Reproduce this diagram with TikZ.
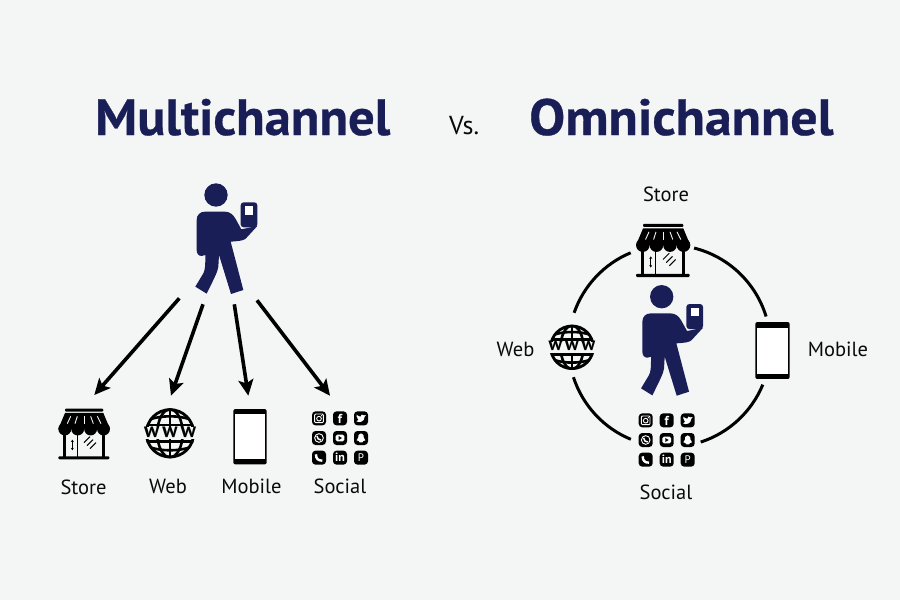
\documentclass[tikz,border=0pt]{standalone}
\usepackage{fontspec}
\setmainfont{PT Sans}
\newfontfamily\titlemulti[FakeStretch=1.03,FakeBold=0.6]{PT Sans Bold}
\newfontfamily\titleomni[FakeStretch=1.055,FakeBold=0.6]{PT Sans Bold}
\usetikzlibrary{arrows.meta,calc}
\definecolor{pagebg}{HTML}{F4F5F5}
\definecolor{navy}{HTML}{1A1E57}
\definecolor{ink}{HTML}{0A0A0A}
\tikzset{
  x=1pt,y=-1pt,
  title/.style={text=navy,anchor=base west,inner sep=0pt},
  label/.style={font=\fontsize{20.5}{20.5}\selectfont,text=ink,anchor=base,inner sep=0pt},
  channelarrow/.style={line width=3.6pt,draw=black,-{Stealth[length=16pt,width=15pt,inset=3.5pt]}},
  ringarc/.style={line width=3pt,draw=black},
  glyph/.style={transform shape,scale=3,text=white,inner sep=0pt,font=\bfseries\fontsize{11}{11}\selectfont},
  person/.pic={
    \begin{scope}[scale=0.3333,shift={(-138,-75)}]
      \fill[navy] (138,75) circle[radius=35];
      \fill[navy] (105,125) -- (165,125) .. controls (180,125) and (190,135) .. (197,147)
        -- (214,178) -- (262,168) -- (228,205) .. controls (222,211) and (212,213) .. (182,215)
        -- (220,360) -- (183,372) -- (147,255) -- (145,290) .. controls (143,305) and (135,320) .. (110,371)
        -- (76,350) -- (100,310) .. controls (105,300) and (106,290) .. (106,255)
        -- (95,258) .. controls (85,258) and (80,250) .. (80,240)
        -- (80,150) .. controls (80,135) and (90,125) .. (105,125) -- cycle;
      \fill[navy,rounded corners=3pt] (212,97) rectangle (262,172);
      \fill[white] (225,108) rectangle (250,134);
    \end{scope}
  },
  storefront/.pic={
    \begin{scope}[scale=0.3333,shift={(-132,-115)}]
      \fill[black,rounded corners=1pt] (75,41) rectangle (190,50);
      \fill[black] (75,54) -- (190,54) -- (210,102) -- (55,102) -- cycle;
      \foreach \cx in {74.4,113.1,151.9,190.6} \fill[black] (\cx,102) circle[radius=19.4];
      \foreach \a/\b in {92/82,112/105,132/132,152/160,172/183}
        \draw[pagebg,line width=.9pt] (\a,64) -- (\b,86);
      \fill[black] (68,112) rectangle (79,186);
      \fill[black] (185,112) rectangle (196,186);
      \fill[black] (110,112) rectangle (113,186);
      \fill[black,rounded corners=1pt] (55,184) rectangle (208,193);
      \draw[black,line width=1pt,{Stealth[length=2.5pt,width=3pt]}-{Stealth[length=2.5pt,width=3pt]}] (97,134) -- (97,166);
      \foreach \d in {-9,0,9}
        \draw[black,line width=1pt] ($(150,146)+(\d-9,\d+6)$) -- ($(150,146)+(\d+9,\d-12)$);
    \end{scope}
  },
  globe/.pic={
    \begin{scope}[scale=0.3333]
      \begin{scope}
        \clip (0,0) circle[radius=75];
        \draw[black,line width=2.6pt] (0,-75) -- (0,75);
        \draw[black,line width=2.6pt] (0,0) ellipse[x radius=38,y radius=72];
        \draw[black,line width=2.8pt] (-75,-25) -- (75,-25) (-75,25) -- (75,25);
        \draw[black,line width=2.6pt] (-60,-42) .. controls (-25,-54) and (25,-54) .. (60,-42);
        \draw[black,line width=2.6pt] (-60,42) .. controls (-25,54) and (25,54) .. (60,42);
      \end{scope}
      \draw[black,line width=2.8pt] (0,0) circle[radius=71];
      \fill[pagebg] (-80,-18) rectangle (80,18);
      \node[glyph,text=black,font=\bfseries\fontsize{21}{21}\selectfont] at (0,-4) {w\kern3.2pt w\kern3.2pt w};
    \end{scope}
  },
  handset/.pic={
    \begin{scope}[scale=0.3333]
      \fill[black,rounded corners=2pt] (-50,-83) rectangle (50,83);
      \fill[white] (-46,-67) rectangle (46,67);
    \end{scope}
  },
  socialgrid/.pic={
    \begin{scope}[scale=0.3333]
      \foreach \tx in {-63,0,63} \foreach \ty in {-59,0,59}
        \fill[black,rounded corners=3.5pt] (\tx-21,\ty-21) rectangle (\tx+21,\ty+21);
      % instagram
      \begin{scope}[shift={(-63,-59)}]
        \draw[white,line width=.9pt,rounded corners=1pt] (-13,-13) rectangle (13,13);
        \draw[white,line width=.9pt] (0,1) circle[radius=7];
        \fill[white] (8,-8) circle[radius=2];
      \end{scope}
      \node[glyph,font=\bfseries\fontsize{13}{13}\selectfont] at (0,-58) {f};
      % twitter
      \begin{scope}[shift={(63,-59)}]
        \fill[white] (-14,9) .. controls (-5,14) and (10,11) .. (11,-5) -- (15,-10) -- (9,-9)
          .. controls (5,-14) and (-3,-11) .. (-1,-5) .. controls (-6,-5) and (-10,-8) .. (-13,-11)
          .. controls (-14,-6) and (-13,-2) .. (-9,0) -- (-11,1) -- (-7,4) -- cycle;
      \end{scope}
      % whatsapp
      \begin{scope}[shift={(-63,0)}]
        \draw[white,line width=.9pt] (0,0) circle[radius=13];
        \draw[white,line width=1.5pt] (-6,-6) .. controls (-6,1) and (-1,6) .. (6,6);
      \end{scope}
      % youtube
      \begin{scope}[shift={(0,0)}]
        \fill[white,rounded corners=1.5pt] (-13,-10) rectangle (13,10);
        \fill[black] (-4,-6) -- (6,0) -- (-4,6) -- cycle;
      \end{scope}
      % ghost
      \begin{scope}[shift={(63,0)}]
        \fill[white] (0,-14) .. controls (-9,-14) and (-8,-5) .. (-8,-2) -- (-13,7) -- (-7,9) -- (-4,13)
          -- (4,13) -- (7,9) -- (13,7) -- (8,-2) .. controls (8,-5) and (9,-14) .. (0,-14) -- cycle;
      \end{scope}
      % phone
      \begin{scope}[shift={(-63,59)}]
        \draw[white,line width=2.4pt] (-9,-10) .. controls (-9,3) and (-3,9) .. (10,9);
      \end{scope}
      \node[glyph,font=\bfseries\fontsize{12}{12}\selectfont] at (0,59) {in};
      \node[glyph,font=\fontsize{11}{11}\selectfont] at (63,59) {P};
    \end{scope}
  },
}
\begin{document}
\begin{tikzpicture}
\useasboundingbox (0,0) rectangle (900,600);
\fill[pagebg] (0,0) rectangle (900,600);

% titles
\node[title,font=\titlemulti\fontsize{51}{51}\selectfont] (ttlm) at (95,135) {Multichannel};
\node[title,font=\titleomni\fontsize{51}{51}\selectfont] (ttlo) at (529,135) {Omnichannel};
\node[label,font=\fontsize{26}{26}\selectfont,anchor=base west] (vs) at (449,134) {Vs.};

% left column
\pic (mperson) at (216,195) {person};
\pic (mstore) at (84,433.3) {storefront};
\pic (mweb) at (170,433.3) {globe};
\pic (mmobile) at (250,436.7) {handset};
\pic (msocial) at (340,438) {socialgrid};
\node[label] (lstore) at (83.5,494.3) {Store};
\node[label] (lweb) at (168,493.3) {Web};
\node[label] (lmobile) at (251.5,493.3) {Mobile};
\node[label] (lsocial) at (340,493.3) {Social};

\coordinate (a1s) at (179.3,298.3); \coordinate (a1e) at (94.3,395);
\coordinate (a2s) at (203,304.3);   \coordinate (a2e) at (171,395.7);
\coordinate (a3s) at (234.3,304.3); \coordinate (a3e) at (248.3,395.7);
\coordinate (a4s) at (257,300.3);   \coordinate (a4e) at (330,395.7);
\draw[channelarrow] (a1s) -- (a1e);
\draw[channelarrow] (a2s) -- (a2e);
\draw[channelarrow] (a3s) -- (a3e);
\draw[channelarrow] (a4s) -- (a4e);

% right column
\coordinate (ring) at (669.5,346);
\coordinate (r1) at ($(ring)+(75.9:101pt)$);
\coordinate (r2) at ($(ring)+(-22.5:101pt)$);
\coordinate (r3) at ($(ring)+(-112.5:101pt)$);
\coordinate (r4) at ($(ring)+(160.8:101pt)$);
\draw[ringarc] (r1) arc[start angle=75.9,end angle=17,radius=101pt];
\draw[ringarc] (r2) arc[start angle=-22.5,end angle=-72,radius=101pt];
\draw[ringarc] (r3) arc[start angle=-112.5,end angle=-162,radius=101pt];
\draw[ringarc] (r4) arc[start angle=160.8,end angle=112.6,radius=101pt];

\pic (operson) at (661.7,296.7) {person};
\pic[scale=1.05] (ostore) at (663,249.7) {storefront};
\pic[scale=0.9] (oweb) at (572,347.3) {globe};
\pic[scale=1.03] (omobile) at (772.5,350.5) {handset};
\pic (osocial) at (666.7,440) {socialgrid};
\node[label] (tstore) at (666,201) {Store};
\node[label] (tweb) at (515.5,356) {Web};
\node[label] (tmobile) at (838,356) {Mobile};
\node[label] (tsocial) at (666,499) {Social};
\end{tikzpicture}
\end{document}
